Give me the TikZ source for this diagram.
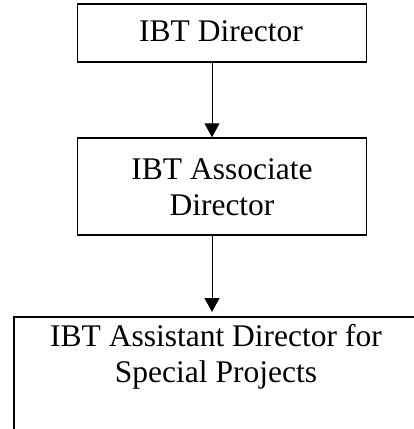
\documentclass[tikz,border=0pt]{standalone}
\usepackage{fontspec}
\setmainfont{Liberation Serif}
\usetikzlibrary{arrows.meta}
\begin{document}
\begin{tikzpicture}[x=1pt,y=-1pt,
  box/.style={draw, line width=1.5pt, inner sep=0pt},
  lbl/.style={font=\fontsize{31.5}{36}\selectfont, align=center, inner sep=0pt},
  arr/.style={line width=1pt, -{Triangle[width=15pt,length=14pt]}}]
\useasboundingbox (0,0) rectangle (414,429);
\clip (0,0) rectangle (414,429);
\node[box, minimum width=289pt, minimum height=58pt] (dir) at (222.2,33.2) {};
\node[lbl, anchor=base] (dirtext) at (221,41.7) {IBT Director};
\node[box, minimum width=289pt, minimum height=97pt] (assoc) at (222.2,186.5) {};
\node[lbl, anchor=base] (assoctext) at (222,215) {IBT Associate\\Director};
\node[box, anchor=north west, minimum width=420pt, minimum height=140pt] (assist) at (13,316) {};
\node[lbl, anchor=base] (assisttext) at (216,382.7) {IBT Assistant Director for\\Special Projects};
\coordinate (ax) at (212,0);
\draw[arr] (dir.south -| ax) -- (assoc.north -| ax);
\draw[arr, shorten >=4pt] (assoc.south -| ax) -- (assist.north -| ax);
\end{tikzpicture}
\end{document}
